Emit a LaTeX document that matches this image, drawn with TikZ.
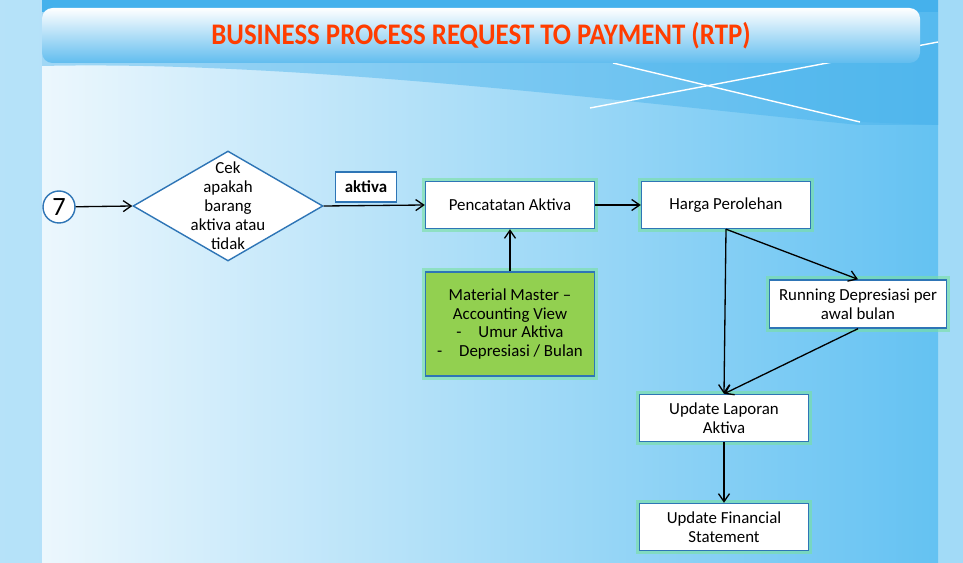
\documentclass[tikz,border=0pt]{standalone}
\usepackage{fontspec}
\setmainfont{Carlito}
\usetikzlibrary{shapes.geometric,arrows.meta}

\definecolor{bordblue}{RGB}{46,117,182}
\definecolor{glowgreen}{RGB}{120,225,160}
\definecolor{matgreen}{RGB}{146,208,80}
\definecolor{titlered}{RGB}{255,61,0}
\definecolor{bgpale}{RGB}{236,247,253}
\definecolor{bgblue}{RGB}{100,194,242}
\definecolor{topblue}{RGB}{69,177,236}

\begin{document}
\begin{tikzpicture}[x=0.02cm,y=-0.02cm,
  box/.style={draw=bordblue, fill=white, line width=0.8pt, align=center,
    minimum width=3.38cm, minimum height=0.94cm, inner sep=2pt,
    font=\fontsize{9.6}{10.8}\selectfont,
    preaction={draw=glowgreen, line width=4pt, opacity=0.6}},
  arr/.style={draw=black, line width=0.75pt, -{Straight Barb[length=1.6mm,width=2.2mm]}},
  decision/.style={diamond, draw=bordblue, fill=white, line width=0.8pt,
    minimum width=3.8cm, minimum height=2.2cm, inner sep=0pt}]
\useasboundingbox (0,0) rectangle (963,563);

% background
\fill[left color=bgpale!60!bgblue, right color=bgblue!60] (0,0) rectangle (963,563);
\fill[left color=bgpale, right color=bgblue] (42,0) rectangle (938,563);
\fill[topblue, opacity=0.45] (42,0) -- (938,0) -- (938,125) -- (860,125)
  .. controls (650,105) and (300,60) .. (42,66) -- cycle;
\fill[topblue, opacity=0.35] (613,63) -- (938,42) -- (938,125) -- (860,122) -- cycle;
\draw[white, line width=0.8pt] (590,108) -- (938,42);
\draw[white, line width=0.8pt] (613,63) -- (860,122);
\fill[topblue] (42,0) rectangle (938,12);

% title bar
\shade[top color=white, bottom color=topblue!85, rounded corners=6pt] (42,8) rectangle (920,63);
\node (title) at (481,36) {\scalebox{0.9}[1]{\fontsize{17}{20}\selectfont\bfseries\color{titlered}BUSINESS PROCESS REQUEST TO PAYMENT (RTP)}};

% nodes
\node[circle, draw=bordblue, fill=white, line width=0.8pt, minimum size=0.64cm, inner sep=0pt,
  font=\fontsize{15}{15}\selectfont] (seven) at (59,207) {7};
\node[decision] (cek) at (228,206) {};
\node[align=center, font=\fontsize{9.6}{10.8}\selectfont] (cektext) at (cek) {Cek\\apakah\\barang\\aktiva atau\\tidak};
\node[draw=bordblue, fill=white, line width=0.8pt, minimum width=1.22cm, minimum height=0.6cm,
  font=\fontsize{9.6}{10.8}\selectfont\bfseries] (aktiva) at (366,187) {aktiva};
\node[box] (penc) at (510,205) {Pencatatan Aktiva};
\node[box] (harga) at (726,205) {Harga Perolehan};
\node[box, fill=matgreen, minimum height=2.08cm] (material) at (510,324)
  {Material Master --\\Accounting View\\-\quad Umur Aktiva\\-\quad Depresiasi / Bulan};
\node[box, minimum width=3.54cm, minimum height=0.96cm] (running) at (858,304) {Running Depresiasi per\\awal bulan};
\node[box] (laporan) at (724,418) {Update Laporan\\Aktiva};
\node[box] (financial) at (724,527) {Update Financial\\Statement};

% connectors
\draw[arr] (seven) -- (cek.west);
\draw[arr] (cek.east) -- (penc.west);
\draw[arr] (penc) -- (harga);
\draw[arr] (material) -- (penc);
\draw[arr] (harga.south) -- (running.north);
\draw[arr] (harga.south) -- (laporan.north);
\draw[arr] (running.south) -- (laporan.north);
\draw[arr] (laporan) -- (financial);
\end{tikzpicture}
\end{document}
